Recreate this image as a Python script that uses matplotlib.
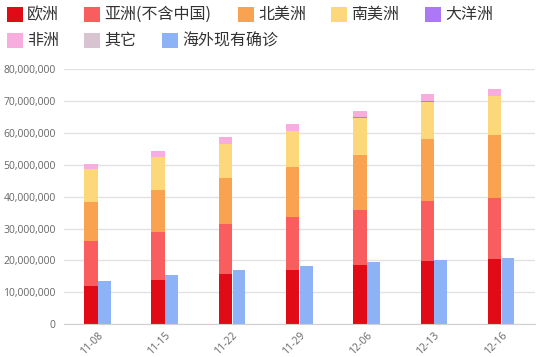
import numpy as np
import matplotlib.pyplot as plt
from matplotlib.patches import Rectangle
from matplotlib.ticker import FuncFormatter

plt.rcParams['font.family'] = ['Noto Sans CJK SC', 'DejaVu Sans']

dates = ['11-08', '11-15', '11-22', '11-29', '12-06', '12-13', '12-16']

# stacked segments (cases)
europe = [12.1e6, 13.9e6, 15.8e6, 17.1e6, 18.5e6, 19.9e6, 20.4e6]
asia = [14.1e6, 15.0e6, 15.5e6, 16.6e6, 17.3e6, 18.8e6, 19.1e6]
north_america = [12.2e6, 13.2e6, 14.6e6, 15.7e6, 17.4e6, 19.3e6, 19.8e6]
south_america = [10.2e6, 10.3e6, 10.6e6, 11.1e6, 11.6e6, 11.8e6, 12.3e6]
oceania = [0.04e6, 0.04e6, 0.04e6, 0.04e6, 0.04e6, 0.05e6, 0.05e6]
africa = [1.6e6, 1.9e6, 2.0e6, 2.1e6, 2.1e6, 2.4e6, 2.2e6]
others = [0.01e6, 0.01e6, 0.01e6, 0.01e6, 0.01e6, 0.01e6, 0.01e6]
current = [13.7e6, 15.5e6, 17.0e6, 18.3e6, 19.4e6, 20.3e6, 20.7e6]

names = ['欧洲', '亚洲(不含中国)', '北美洲', '南美洲', '大洋洲', '非洲', '其它', '海外现有确诊']
colors = ['#e00b17', '#fa5d5e', '#f9a350', '#fcd87b', '#ac78f5', '#f8addf', '#d8c4d0', '#8db3f6']

fig = plt.figure(figsize=(5.5, 3.57), dpi=100)
ax = fig.add_axes([64 / 550, 1 - 324.3 / 357, 471 / 550, (324.3 - 69) / 357])

x = np.arange(len(dates))
w = 0.2
bottom = np.zeros(len(dates))
for vals, c in zip([europe, asia, north_america, south_america, oceania, africa, others], colors[:7]):
    ax.bar(x - w / 2, vals, w, bottom=bottom, color=c, linewidth=0)
    bottom += np.array(vals)
ax.bar(x + w / 2, current, w * 0.95, color=colors[7], linewidth=0)

ax.set_xlim(-0.5, len(dates) - 0.5)
ax.set_ylim(0, 80e6)
ax.set_yticks(np.arange(0, 80e6 + 1, 10e6))
ax.yaxis.set_major_formatter(FuncFormatter(lambda v, p: '{:,.0f}'.format(v)))
ax.set_xticks(x)
ax.set_xticklabels(dates, rotation=45, ha='right', rotation_mode='anchor')
ax.tick_params(axis='y', length=0, labelsize=7.5, colors='#666666', pad=6)
ax.tick_params(axis='x', length=0, labelsize=7.5, colors='#666666', pad=4)
for lab in ax.get_yticklabels() + ax.get_xticklabels():
    lab.set_family('Open Sans')
ax.grid(axis='y', color='#e2e2e2', linewidth=1)
ax.set_axisbelow(True)
for s in ['top', 'right', 'left']:
    ax.spines[s].set_visible(False)
ax.spines['bottom'].set_color('#d0d0d0')

# flow legend
rows = [[(7, 0), (84, 1), (238, 2), (331, 3), (425, 4)],
        [(7, 5), (84, 6), (162, 7)]]
row_y = [7, 33]
for r, items in enumerate(rows):
    for px, i in items:
        y0 = row_y[r]
        fig.add_artist(Rectangle((px / 550, 1 - (y0 + 15) / 357), 16 / 550, 15 / 357,
                                 transform=fig.transFigure, color=colors[i], linewidth=0))
        fig.text((px + 20) / 550, 1 - (y0 + 7.5) / 357, names[i], fontsize=11.5,
                 color='#333333', va='center', ha='left')

fig.savefig('out.png', dpi=100)
